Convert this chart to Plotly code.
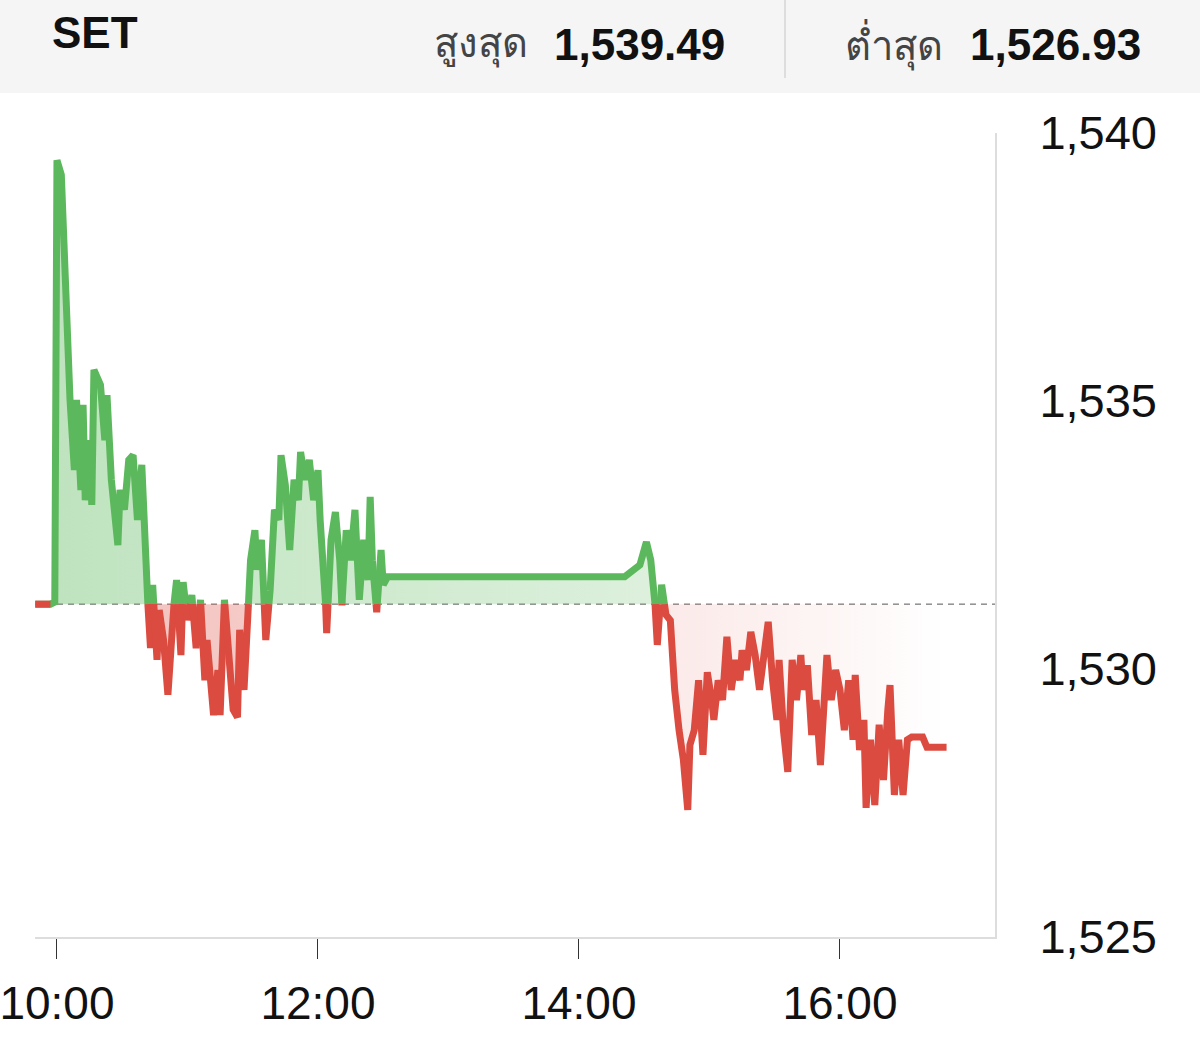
import numpy as np
import pandas as pd
import plotly.graph_objects as go

# ---------------- data ----------------
DAY = "2024-01-01"
times = [
    "09:50", "09:57", "09:59", "10:00", "10:02", "10:04", "10:06", "10:08", "10:09", "10:11",
    "10:12", "10:13", "10:15", "10:16", "10:17", "10:20", "10:22", "10:23", "10:25", "10:28",
    "10:29", "10:31", "10:33", "10:35", "10:37", "10:39", "10:41", "10:43", "10:44", "10:46",
    "10:47", "10:49", "10:51", "10:53", "10:55", "10:57", "10:58", "11:00", "11:02", "11:04",
    "11:06", "11:08", "11:09", "11:12", "11:14", "11:15", "11:17", "11:19", "11:21", "11:23",
    "11:24", "11:26", "11:28", "11:29", "11:31", "11:32", "11:34", "11:36", "11:38", "11:40",
    "11:42", "11:43", "11:45", "11:47", "11:49", "11:51", "11:52", "11:54", "11:56", "11:58",
    "12:00", "12:01", "12:03", "12:04", "12:06", "12:08", "12:10", "12:11", "12:13", "12:15",
    "12:17", "12:19", "12:21", "12:23", "12:24", "12:25", "12:27", "12:29", "12:30", "12:32",
    "14:21", "14:28", "14:31", "14:33", "14:35", "14:36", "14:38", "14:40", "14:42", "14:44",
    "14:46", "14:48", "14:50", "14:51", "14:53", "14:55", "14:57", "14:59", "15:01", "15:02",
    "15:04", "15:06", "15:08", "15:10", "15:12", "15:14", "15:15", "15:17", "15:19", "15:21",
    "15:23", "15:25", "15:27", "15:29", "15:31", "15:32", "15:34", "15:36", "15:38", "15:40",
    "15:42", "15:43", "15:45", "15:47", "15:49", "15:51", "15:53", "15:54", "15:56", "15:58",
    "16:00", "16:02", "16:04", "16:06", "16:07", "16:09", "16:11", "16:12", "16:14", "16:16",
    "16:18", "16:20", "16:22", "16:23", "16:25", "16:27", "16:29", "16:31", "16:33", "16:38",
    "16:40", "16:49",
]
values = [
    1531.21, 1531.21, 1531.25, 1539.49, 1539.22, 1537.07, 1535.02, 1533.71, 1535.02, 1533.34,
    1534.93, 1533.15, 1534.27, 1533.06, 1535.58, 1535.30, 1534.27, 1535.11, 1533.53, 1532.31,
    1533.34, 1532.97, 1533.90, 1533.99, 1532.78, 1533.81, 1531.75, 1530.39, 1531.57, 1530.17,
    1531.10, 1530.54, 1529.52, 1530.91, 1531.66, 1530.26, 1531.62, 1530.91, 1531.38, 1530.39,
    1531.29, 1529.79, 1530.54, 1529.14, 1529.98, 1529.14, 1531.29, 1530.35, 1529.24, 1529.10,
    1530.73, 1529.61, 1531.19, 1532.03, 1532.59, 1531.85, 1532.41, 1530.54, 1531.47, 1532.97,
    1532.78, 1533.99, 1533.43, 1532.22, 1533.53, 1533.15, 1534.05, 1533.53, 1533.90, 1533.15,
    1533.71, 1532.78, 1531.75, 1530.67, 1532.41, 1532.93, 1532.03, 1531.19, 1532.59, 1532.03,
    1532.97, 1531.29, 1532.41, 1531.66, 1533.21, 1532.03, 1531.06, 1532.22, 1531.57, 1531.72,
    1531.72, 1531.94, 1532.37, 1532.03, 1531.19, 1530.45, 1531.57, 1531.01, 1530.91, 1529.61,
    1528.86, 1528.30, 1527.37, 1528.58, 1528.86, 1529.79, 1528.40, 1529.94, 1529.42, 1529.05,
    1529.79, 1529.42, 1530.60, 1529.61, 1530.17, 1529.79, 1530.35, 1529.98, 1530.69, 1530.26,
    1529.61, 1530.35, 1530.88, 1529.79, 1529.05, 1530.17, 1528.86, 1528.08, 1530.17, 1529.42,
    1530.26, 1529.61, 1530.07, 1528.77, 1529.42, 1528.21, 1529.61, 1530.26, 1529.42, 1529.98,
    1529.61, 1528.86, 1529.79, 1528.68, 1529.89, 1528.49, 1529.05, 1527.41, 1528.68, 1527.46,
    1528.96, 1527.93, 1529.24, 1529.70, 1527.65, 1528.68, 1527.65, 1528.68, 1528.73, 1528.73,
    1528.54, 1528.54,
]
prev_close = 1531.21
index_name = "SET"
high_label = "สูงสุด"
high_value = "1,539.49"
low_label = "ต่ำสุด"
low_value = "1,526.93"
x_tick_times = ["10:00", "12:00", "14:00", "16:00"]
y_tick_values = [1525, 1530, 1535, 1540]
y_tick_labels = ["1,525", "1,530", "1,535", "1,540"]
x_range = ["09:49:54", "17:11:16"]
y_range = [1525, 1540]

# ---------------- colours ----------------
GREEN = "#5cb85c"
RED = "#db4b40"
FONT = "Liberation Sans, Arial, sans-serif"

# ---------------- split at previous close ----------------
t = pd.to_datetime([f"{DAY} {s}" for s in times])
secs = np.array([(ti - t[0]).total_seconds() for ti in t], dtype=float)
v = np.array(values, dtype=float)

ax, av = [secs[0]], [v[0]]
for i in range(1, len(v)):
    a, b = v[i - 1] - prev_close, v[i] - prev_close
    if a * b < 0:
        f = a / (a - b)
        ax.append(secs[i - 1] + f * (secs[i] - secs[i - 1]))
        av.append(prev_close)
    ax.append(secs[i])
    av.append(v[i])
ax = np.array(ax)
av = np.array(av)
xs = t[0] + pd.to_timedelta(ax, unit="s")

eps = 1e-9
green_line = [val if val >= prev_close - eps else None for val in av]
red_line = [val if val <= prev_close + eps else None for val in av]
green_fill = np.maximum(av, prev_close)
red_fill = np.minimum(av, prev_close)
base = np.full(len(av), prev_close)

fig = go.Figure()
fig.add_trace(go.Scatter(x=xs, y=base, mode="lines", line=dict(width=0), hoverinfo="skip", showlegend=False))
fig.add_trace(go.Scatter(
    x=xs, y=green_fill, mode="lines", line=dict(width=0), fill="tonexty",
    fillgradient=dict(type="horizontal", colorscale=[[0, "rgba(92,184,92,0.40)"], [1, "rgba(92,184,92,0.12)"]]),
    hoverinfo="skip", showlegend=False))
fig.add_trace(go.Scatter(x=xs, y=base, mode="lines", line=dict(width=0), hoverinfo="skip", showlegend=False))
fig.add_trace(go.Scatter(
    x=xs, y=red_fill, mode="lines", line=dict(width=0), fill="tonexty",
    fillgradient=dict(type="horizontal", colorscale=[[0, "rgba(219,75,64,0.38)"], [0.85, "rgba(219,75,64,0.06)"], [1, "rgba(219,75,64,0.0)"]]),
    hoverinfo="skip", showlegend=False))
fig.add_trace(go.Scatter(x=xs, y=green_line, mode="lines", line=dict(color=GREEN, width=7),
                         connectgaps=False, showlegend=False))
fig.add_trace(go.Scatter(x=xs, y=red_line, mode="lines", line=dict(color=RED, width=7),
                         connectgaps=False, showlegend=False))

# header band and divider
fig.add_shape(type="rect", xref="paper", yref="paper", x0=-0.05, x1=1.25, y0=1.0498, y1=1.18,
              fillcolor="#f5f5f5", line=dict(width=0), layer="below")
fig.add_shape(type="line", xref="paper", yref="paper", x0=0.78125, x1=0.78125, y0=1.0684, y1=1.18,
              line=dict(color="#dddddd", width=2))
# previous close dashed line
fig.add_shape(type="line", xref="paper", yref="y", x0=0, x1=1, y0=prev_close, y1=prev_close,
              line=dict(color="#555555", width=1, dash="6px,5px"), layer="below")

fig.add_annotation(x=0.0156, y=1.1244, xref="paper", yref="paper", text=f"<b>{index_name}</b>",
                   showarrow=False, xanchor="left", yanchor="middle",
                   font=dict(family=FONT, size=44, color="#111111"))
fig.add_annotation(x=0.5156, y=1.1095, xref="paper", yref="paper", text=high_label,
                   showarrow=False, xanchor="right", yanchor="middle",
                   font=dict(family=FONT, size=40, color="#444444"))
fig.add_annotation(x=0.7208, y=1.1095, xref="paper", yref="paper", text=f"<b>{high_value}</b>",
                   showarrow=False, xanchor="right", yanchor="middle",
                   font=dict(family=FONT, size=44, color="#111111"))
fig.add_annotation(x=0.9479, y=1.1095, xref="paper", yref="paper", text=low_label,
                   showarrow=False, xanchor="right", yanchor="middle",
                   font=dict(family=FONT, size=40, color="#444444"))
fig.add_annotation(x=1.1542, y=1.1095, xref="paper", yref="paper", text=f"<b>{low_value}</b>",
                   showarrow=False, xanchor="right", yanchor="middle",
                   font=dict(family=FONT, size=44, color="#111111"))

fig.update_layout(
    width=1200, height=1054,
    margin=dict(l=35, r=205, t=133, b=117, autoexpand=False),
    paper_bgcolor="white", plot_bgcolor="white",
    showlegend=False,
    font=dict(family=FONT, color="#111111"),
)
fig.update_xaxes(
    type="date",
    range=[f"{DAY} {x_range[0]}", f"{DAY} {x_range[1]}"],
    tickvals=[f"{DAY} {s}" for s in x_tick_times],
    ticktext=x_tick_times,
    ticks="outside", ticklen=20, tickwidth=1, tickcolor="#333333",
    showline=True, linecolor="#dddddd", linewidth=2,
    showgrid=False, zeroline=False, automargin=False,
    ticklabeloverflow="allow", ticklabelstandoff=5,
    tickfont=dict(family=FONT, size=46, color="#111111"),
)
fig.update_yaxes(
    range=y_range, side="right",
    tickvals=y_tick_values, ticktext=y_tick_labels,
    ticks="", ticklabelstandoff=33,
    showline=True, linecolor="#dddddd", linewidth=2,
    showgrid=False, zeroline=False, automargin=False,
    ticklabeloverflow="allow",
    tickfont=dict(family=FONT, size=47, color="#111111"),
)

fig.write_html("out.html", config={"displayModeBar": False},
               post_script="document.body.style.margin='0';")
